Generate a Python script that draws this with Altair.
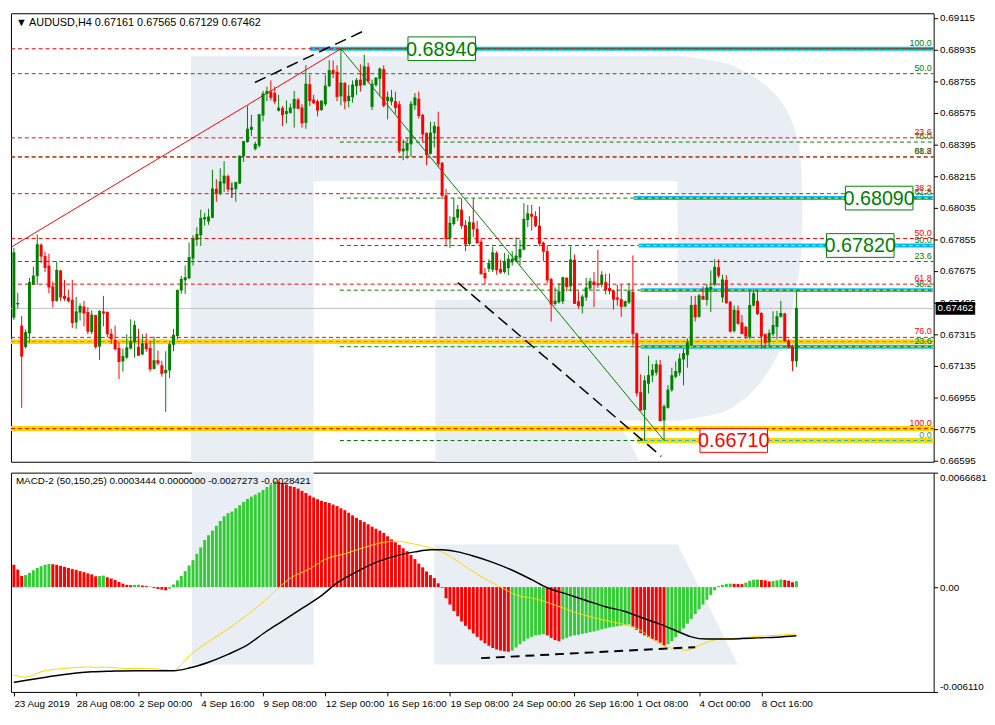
import altair as alt
import pandas as pd

# ---------------- price data (AUDUSD H4, bar index 0 = 23 Aug 2019 16:00) ----------------
opens = [0.67409,0.67485,0.67364,0.67242,0.67320,0.67597,0.67646,0.67824,0.67760,0.67706,
0.67587,0.67505,0.67678,0.67533,0.67524,0.67511,0.67382,0.67438,0.67473,0.67442,
0.67327,0.67424,0.67245,0.67445,0.67442,0.67318,0.67282,0.67237,0.67160,0.67182,
0.67233,0.67269,0.67242,0.67200,0.67264,0.67237,0.67118,0.67167,0.67138,0.67093,
0.67109,0.67255,0.67305,0.67564,0.67622,0.67633,0.67746,0.67851,0.67878,0.67969,
0.67957,0.67978,0.68142,0.68118,0.68173,0.68215,0.68142,0.68142,0.68173,0.68328,
0.68409,0.68478,0.68369,0.68388,0.68560,0.68682,0.68696,0.68688,0.68587,0.68602,
0.68569,0.68575,0.68600,0.68651,0.68606,0.68518,0.68738,0.68651,0.68642,0.68591,
0.68624,0.68727,0.68819,0.68809,0.68669,0.68745,0.68642,0.68664,0.68727,0.68764,
0.68733,0.68837,0.68609,0.68733,0.68769,0.68824,0.68642,0.68639,0.68642,0.68624,
0.68356,0.68360,0.68396,0.68618,0.68655,0.68564,0.68460,0.68342,0.68460,0.68497,
0.68291,0.68106,0.67860,0.67942,0.67978,0.68024,0.67936,0.67829,0.67951,0.67915,
0.67842,0.67664,0.67687,0.67682,0.67778,0.67687,0.67669,0.67691,0.67724,0.67733,
0.67751,0.67796,0.67965,0.68000,0.67987,0.67933,0.67837,0.67788,0.67629,0.67487,
0.67496,0.67502,0.67636,0.67587,0.67738,0.67502,0.67473,0.67524,0.67575,0.67615,
0.67605,0.67597,0.67611,0.67578,0.67564,0.67524,0.67515,0.67473,0.67496,0.67556,
0.67320,0.66985,0.66884,0.67033,0.67080,0.67096,0.67142,0.66824,0.66896,0.66997,
0.67073,0.67096,0.67171,0.67196,0.67251,0.67483,0.67414,0.67533,0.67510,0.67569,
0.67597,0.67696,0.67524,0.67624,0.67500,0.67333,0.67451,0.67382,0.67357,0.67297,
0.67478,0.67505,0.67436,0.67315,0.67269,0.67315,0.67357,0.67414,0.67433,0.67278,
0.67242,0.67161]
highs = [0.67806,0.67551,0.67420,0.67342,0.67636,0.67700,0.67882,0.67833,0.67784,0.67773,
0.67615,0.67728,0.67680,0.67624,0.67569,0.67624,0.67527,0.67491,0.67505,0.67469,
0.67451,0.67426,0.67451,0.67533,0.67444,0.67346,0.67364,0.67269,0.67233,0.67315,
0.67400,0.67391,0.67346,0.67315,0.67320,0.67278,0.67302,0.67223,0.67164,0.67218,
0.67273,0.67346,0.67569,0.67646,0.67706,0.67837,0.67878,0.67924,0.68024,0.68006,
0.68029,0.68251,0.68197,0.68260,0.68300,0.68224,0.68178,0.68182,0.68333,0.68415,
0.68614,0.68564,0.68411,0.68568,0.68700,0.68724,0.68760,0.68724,0.68678,0.68614,
0.68646,0.68628,0.68700,0.68660,0.68624,0.68847,0.68791,0.68678,0.68651,0.68646,
0.68791,0.68875,0.68873,0.68846,0.68940,0.68751,0.68733,0.68760,0.68773,0.68851,
0.68906,0.68860,0.68764,0.68777,0.68833,0.68846,0.68696,0.68706,0.68696,0.68642,
0.68424,0.68433,0.68642,0.68688,0.68696,0.68569,0.68464,0.68524,0.68524,0.68582,
0.68295,0.68142,0.67987,0.68088,0.68051,0.68088,0.67964,0.67987,0.68088,0.67960,
0.67860,0.67691,0.67742,0.67815,0.67788,0.67738,0.67778,0.67769,0.67788,0.67866,
0.67851,0.68060,0.68051,0.68051,0.68015,0.68042,0.67842,0.67818,0.67636,0.67582,
0.67605,0.67642,0.67640,0.67815,0.67769,0.67560,0.67542,0.67636,0.67636,0.67669,
0.67796,0.67673,0.67660,0.67660,0.67568,0.67597,0.67597,0.67505,0.67605,0.67763,
0.67324,0.67087,0.67080,0.67193,0.67145,0.67167,0.67169,0.66915,0.67025,0.67124,
0.67160,0.67205,0.67233,0.67291,0.67533,0.67533,0.67544,0.67587,0.67600,0.67678,
0.67742,0.67742,0.67654,0.67651,0.67504,0.67478,0.67478,0.67424,0.67361,0.67560,
0.67569,0.67560,0.67440,0.67319,0.67342,0.67445,0.67447,0.67505,0.67437,0.67287,
0.67255,0.67565]
lows = [0.67396,0.67462,0.66896,0.67233,0.67266,0.67597,0.67597,0.67720,0.67669,0.67548,
0.67466,0.67500,0.67505,0.67505,0.67496,0.67351,0.67346,0.67393,0.67360,0.67315,
0.67315,0.67233,0.67169,0.67360,0.67297,0.67260,0.67223,0.67060,0.67102,0.67174,
0.67229,0.67182,0.67193,0.67196,0.67215,0.67102,0.67114,0.67138,0.67073,0.66873,
0.67065,0.67218,0.67287,0.67545,0.67545,0.67629,0.67706,0.67818,0.67818,0.67933,
0.67938,0.67975,0.68069,0.68106,0.68124,0.68124,0.68091,0.68069,0.68170,0.68296,
0.68405,0.68442,0.68362,0.68378,0.68527,0.68642,0.68646,0.68624,0.68583,0.68500,
0.68515,0.68571,0.68491,0.68596,0.68491,0.68484,0.68614,0.68624,0.68555,0.68587,
0.68614,0.68723,0.68773,0.68642,0.68618,0.68596,0.68606,0.68633,0.68678,0.68696,
0.68730,0.68745,0.68591,0.68724,0.68669,0.68606,0.68538,0.68618,0.68569,0.68346,
0.68306,0.68314,0.68324,0.68593,0.68542,0.68406,0.68278,0.68338,0.68378,0.68269,
0.68084,0.67815,0.67806,0.67933,0.67960,0.67915,0.67788,0.67818,0.67869,0.67829,
0.67654,0.67600,0.67669,0.67669,0.67654,0.67660,0.67660,0.67651,0.67706,0.67724,
0.67709,0.67792,0.67924,0.67905,0.67924,0.67815,0.67733,0.67605,0.67387,0.67478,
0.67489,0.67487,0.67560,0.67560,0.67487,0.67460,0.67433,0.67505,0.67569,0.67469,
0.67578,0.67582,0.67542,0.67542,0.67455,0.67478,0.67414,0.67469,0.67487,0.67251,
0.66960,0.66878,0.66710,0.66978,0.67042,0.67080,0.66820,0.66709,0.66892,0.66987,
0.67064,0.67080,0.67024,0.67124,0.67247,0.67387,0.67410,0.67511,0.67478,0.67442,
0.67587,0.67636,0.67496,0.67487,0.67324,0.67324,0.67369,0.67315,0.67287,0.67287,
0.67473,0.67424,0.67233,0.67233,0.67242,0.67305,0.67287,0.67410,0.67271,0.67233,
0.67106,0.67129]
closes = [0.67778,0.67490,0.67191,0.67324,0.67609,0.67646,0.67824,0.67760,0.67696,0.67584,
0.67505,0.67678,0.67527,0.67518,0.67505,0.67382,0.67442,0.67473,0.67436,0.67333,
0.67424,0.67245,0.67445,0.67436,0.67318,0.67291,0.67233,0.67160,0.67187,0.67237,
0.67273,0.67364,0.67196,0.67260,0.67233,0.67118,0.67164,0.67151,0.67093,0.67109,
0.67255,0.67309,0.67564,0.67627,0.67636,0.67751,0.67855,0.67882,0.67973,0.67978,
0.67982,0.68142,0.68118,0.68182,0.68215,0.68142,0.68142,0.68178,0.68328,0.68411,
0.68482,0.68493,0.68396,0.68564,0.68682,0.68696,0.68664,0.68642,0.68602,0.68564,
0.68582,0.68602,0.68651,0.68602,0.68518,0.68738,0.68646,0.68633,0.68591,0.68642,
0.68727,0.68815,0.68800,0.68669,0.68745,0.68642,0.68669,0.68733,0.68760,0.68733,
0.68837,0.68760,0.68738,0.68773,0.68824,0.68618,0.68664,0.68660,0.68606,0.68360,
0.68369,0.68400,0.68624,0.68660,0.68560,0.68455,0.68338,0.68460,0.68497,0.68287,
0.68106,0.67860,0.67946,0.67978,0.68024,0.67933,0.67829,0.67951,0.67915,0.67837,
0.67660,0.67636,0.67718,0.67778,0.67682,0.67669,0.67724,0.67742,0.67742,0.67760,
0.67796,0.67969,0.68000,0.67987,0.67933,0.67833,0.67788,0.67624,0.67487,0.67502,
0.67556,0.67636,0.67587,0.67738,0.67491,0.67478,0.67527,0.67578,0.67615,0.67600,
0.67597,0.67651,0.67569,0.67564,0.67515,0.67515,0.67474,0.67500,0.67560,0.67320,
0.66982,0.66884,0.67049,0.67080,0.67109,0.67142,0.66824,0.66902,0.66997,0.67078,
0.67102,0.67174,0.67205,0.67269,0.67478,0.67414,0.67533,0.67515,0.67578,0.67582,
0.67696,0.67651,0.67624,0.67496,0.67333,0.67451,0.67378,0.67320,0.67305,0.67478,
0.67545,0.67433,0.67305,0.67269,0.67320,0.67364,0.67414,0.67433,0.67278,0.67242,
0.67164,0.67462]

date_ticks = [0, 16, 32, 48, 64, 80, 96, 112, 128, 144, 160, 176, 192]
date_labels = ["23 Aug 2019", "28 Aug 08:00", "2 Sep 00:00", "4 Sep 16:00", "9 Sep 08:00",
               "12 Sep 00:00", "16 Sep 16:00", "19 Sep 08:00", "24 Sep 00:00", "26 Sep 16:00",
               "1 Oct 08:00", "4 Oct 00:00", "8 Oct 16:00"]
price_ticks = [0.69115, 0.68935, 0.68755, 0.68575, 0.68395, 0.68215, 0.68035, 0.67855,
               0.67675, 0.67495, 0.67315, 0.67135, 0.66955, 0.66775, 0.66595]

# ---------------- MACD-2 (50,150,25) ----------------
hist = [0.00130,0.00102,0.00065,0.00070,0.00083,0.00098,0.00111,0.00122,0.00130,0.00135,
0.00133,0.00130,0.00124,0.00118,0.00111,0.00105,0.00100,0.00093,0.00087,0.00080,
0.00074,0.00063,0.00065,0.00067,0.00057,0.00050,0.00041,0.00030,0.00020,0.00013,
0.00011,0.00013,0.00014,0.00009,0.00006,0.00002,-0.00006,-0.00011,-0.00015,-0.00019,
-0.00009,0.00015,0.00039,0.00065,0.00093,0.00126,0.00157,0.00194,0.00231,0.00274,
0.00302,0.00329,0.00357,0.00385,0.00413,0.00431,0.00440,0.00459,0.00477,0.00496,
0.00514,0.00527,0.00538,0.00551,0.00566,0.00583,0.00598,0.00616,0.00612,0.00607,
0.00598,0.00588,0.00583,0.00574,0.00561,0.00548,0.00533,0.00522,0.00512,0.00503,
0.00496,0.00490,0.00481,0.00472,0.00459,0.00448,0.00433,0.00418,0.00403,0.00390,
0.00379,0.00366,0.00352,0.00340,0.00329,0.00315,0.00296,0.00278,0.00261,0.00246,
0.00226,0.00209,0.00187,0.00163,0.00137,0.00115,0.00091,0.00070,0.00052,0.00022,
-0.00004,-0.00065,-0.00102,-0.00139,-0.00170,-0.00200,-0.00226,-0.00246,-0.00270,-0.00290,
-0.00311,-0.00327,-0.00342,-0.00355,-0.00364,-0.00370,-0.00374,-0.00377,-0.00370,-0.00352,
-0.00333,-0.00315,-0.00300,-0.00290,-0.00281,-0.00278,-0.00274,-0.00281,-0.00296,-0.00309,
-0.00315,-0.00305,-0.00296,-0.00287,-0.00281,-0.00278,-0.00272,-0.00268,-0.00263,-0.00259,
-0.00253,-0.00246,-0.00241,-0.00235,-0.00231,-0.00228,-0.00224,-0.00222,-0.00218,-0.00231,
-0.00250,-0.00268,-0.00281,-0.00292,-0.00302,-0.00311,-0.00324,-0.00342,-0.00333,-0.00315,
-0.00292,-0.00268,-0.00241,-0.00213,-0.00185,-0.00157,-0.00130,-0.00102,-0.00074,-0.00046,
-0.00019,0.00006,0.00013,0.00019,0.00020,0.00019,0.00018,0.00017,0.00026,0.00037,
0.00043,0.00044,0.00041,0.00039,0.00033,0.00035,0.00039,0.00044,0.00041,0.00037,
0.00028,0.0003444]
yellow_bar = [0,3,7,14,19,24,29,36,41,45,50,55,60,65,68,71,76,80,85,90,95,98,103,107,110,
              115,120,125,129,134,139,144,149,154,158,161,164,167,170,173,175,178,182,186,
              191,196,201]
yellow_val = [-0.00512,-0.00525,-0.00493,-0.00472,-0.00466,-0.00468,-0.00474,-0.00476,-0.00485,
              -0.00401,-0.00318,-0.00244,-0.00161,-0.00068,-0.00004,0.00052,0.00107,0.00163,
              0.00194,0.00231,0.00261,0.00268,0.00250,0.00228,0.00205,0.00135,0.00061,0.0,
              -0.00046,-0.00068,-0.00105,-0.00146,-0.00179,-0.00204,-0.00226,-0.00253,-0.00305,
              -0.00342,-0.00361,-0.00368,-0.00350,-0.00322,-0.00300,-0.00298,-0.00287,-0.00281,
              -0.0027273]
black_bar = [0,4,9,15,20,25,31,41,45,50,55,60,64,69,74,79,83,88,93,98,103,107,110,114,118,
             123,128,133,137,142,147,152,157,161,166,171,174,178,182,187,191,196,201]
black_val = [-0.00555,-0.00540,-0.00522,-0.00503,-0.00494,-0.00490,-0.00487,-0.00487,-0.00472,
             -0.00438,-0.00392,-0.00337,-0.00272,-0.00198,-0.00124,-0.00050,0.00024,0.00089,
             0.00144,0.00181,0.00205,0.00218,0.00218,0.00205,0.00181,0.00144,0.00098,0.00043,
             -0.00004,-0.00041,-0.00078,-0.00115,-0.00142,-0.00176,-0.00216,-0.00263,-0.00290,
             -0.00303,-0.00303,-0.00300,-0.00296,-0.00292,-0.0028421]

# ---------------- annotation objects (bar index / price) ----------------
RED, GRN, BLUE, GOLD, MAG = "#ff0000", "#008000", "#00bfff", "#ffd700", "#c060c0"
X_L, X_R = -0.75, 236.25
lvl_dash = [  # price, from bar, to bar, colour
    (0.6894, X_L, X_R, RED), (0.68798, X_L, X_R, GRN), (0.68433, X_L, X_R, RED),
    (0.68409, 83.75, X_R, GRN), (0.68324, X_L, X_R, GRN), (0.68324, X_L, X_R, RED),
    (0.68115, X_L, X_R, RED), (0.6786, X_L, X_R, RED), (0.67729, X_L, X_R, GRN),
    (0.676, X_L, X_R, RED), (0.67297, X_L, X_R, RED), (0.6809, 83.75, X_R, GRN),
    (0.6782, 83.75, X_R, GRN), (0.67566, 83.75, X_R, GRN), (0.67244, 83.75, X_R, GRN),
    (0.6671, 83.75, 161.75, GRN)]
lvl_band = [  # price, from, to, colour, width
    (0.6894, 76, X_R, BLUE, 4), (0.6809, 159.25, X_R, BLUE, 4), (0.6782, 160.5, X_R, BLUE, 4),
    (0.67566, 161, X_R, BLUE, 4), (0.67244, 161, X_R, BLUE, 4),
    (0.67273, X_L, X_R, GOLD, 5), (0.66778, X_L, X_R, GOLD, 5), (0.6671, 160, X_R, GOLD, 5)]
lvl_overdash = [
    (0.6894, 83.75, X_R, GRN), (0.6809, 159.25, X_R, GOLD), (0.6782, 160.5, X_R, GOLD),
    (0.67566, 161, X_R, GOLD), (0.67244, 161, X_R, GOLD), (0.67273, X_L, X_R, MAG),
    (0.66778, X_L, X_R, RED), (0.6671, 161.75, X_R, BLUE)]
lvl_text = [
    (0.6894, "100.0", GRN), (0.68798, "50.0", GRN), (0.68433, "23.6", RED), (0.68409, "76.0", GRN),
    (0.68324, "61.8", RED), (0.68324, "88.2", GRN), (0.68115, "38.2", RED), (0.6809, "61.8", GRN),
    (0.6786, "50.0", RED), (0.6782, "50.0", GRN), (0.67729, "23.6", GRN), (0.676, "61.8", RED),
    (0.67566, "38.2", GRN), (0.67297, "76.0", RED), (0.67244, "23.6", GRN),
    (0.66778, "100.0", RED), (0.6671, "0.0", "#2a9a8a")]
boxes = [(109.9, 0.6894, "0.68940", GRN), (222.25, 0.6809, "0.68090", GRN),
         (217.4, 0.6782, "0.67820", GRN), (184.9, 0.6671, "0.66710", RED)]
trend_solid = [  # id, bar, price, colour
    ("up", -0.75, 0.6781, RED), ("up", 84, 0.6894, RED),
    ("down", 84, 0.6894, GRN), ("down", 167, 0.6671, GRN)]
trend_dash = [("a", 61.9, 0.68748), ("a", 89.9, 0.69042),
              ("b", 114, 0.67609), ("b", 166.3, 0.66620)]
macd_dash = [(120, -0.00414), (175, -0.00350)]
last_price = 0.67462

# watermark "R" (light background logo) in bar / price units
WM = "#e9edf4"
wm_rects = [(45.5, 77, 0.66589, 0.68897), (77, 171.75, 0.68187, 0.68897),
            (108.25, 171.75, 0.66824, 0.67511), (170.5, 171.75, 0.67511, 0.68187)]
wm_bowl_p = [0.68897, 0.68869, 0.68815, 0.68733, 0.68624, 0.68487, 0.68324, 0.68051,
             0.67778, 0.67560, 0.67342, 0.67178, 0.67042, 0.66933, 0.66862, 0.66824]
wm_bowl_r = [171.75, 180.5, 187.25, 193, 197.5, 200.5, 202, 202.5,
             202.25, 200.75, 198.5, 195.75, 191.75, 186.75, 180.5, 171.75]
wm_leg_p = [0.66824, 0.66589]
wm_leg_r = [155.25, 160.75]
wm_macd_stem = (45.75, 77, -0.00451, 0.0067)
wm_macd_leg_v = [0.00248, -0.00451]
wm_macd_leg_r = [170.5, 186]

# ---------------- frames ----------------
n = len(opens)
cdf = pd.DataFrame({"i": range(n), "o": opens, "h": highs, "l": lows, "c": closes})
cdf["col"] = [GRN if c > o else (RED if c < o else "#000000") for o, c in zip(opens, closes)]
cdf["x0"] = cdf["i"] - 0.38
cdf["x1"] = cdf["i"] + 0.38

hdf = pd.DataFrame({"i": range(n), "v": hist})
hdf["col"] = ["#ff0000"] + ["#32cd32" if hist[k] > hist[k - 1] else "#ff0000" for k in range(1, n)]
hdf["x0"] = hdf["i"] - 0.38
hdf["x1"] = hdf["i"] + 0.38
hdf["z"] = 0.0

xs = alt.Scale(domain=[X_L, X_R], nice=False, zero=False)
ys = alt.Scale(domain=[0.66589, 0.69142], nice=False, zero=False)
ms = alt.Scale(domain=[-0.00611, 0.0066681], nice=False, zero=False)
FONT = "Liberation Sans"
NARROW = "Liberation Sans Narrow, Liberation Sans"

price_axis = alt.Axis(orient="right", values=price_ticks, format=".5f", title=None, grid=False,
                      domain=False, tickSize=4, tickColor="black", labelPadding=2,
                      labelFont=FONT, labelFontSize=10, labelColor="black", labelOverlap=False)
PX = lambda f: alt.X(f, type="quantitative", scale=xs, axis=None)
PX2 = lambda f: alt.X2(f)
PY = lambda f: alt.Y(f, type="quantitative", scale=ys, axis=price_axis)

W, HP, HM = 934, 454, 222

# watermark price panel
wr = pd.DataFrame(wm_rects, columns=["a", "b", "p0", "p1"])
wm1 = alt.Chart(wr).mark_rect(color=WM).encode(x=PX("a"), x2="b", y=PY("p0"), y2="p1")
wb = pd.DataFrame({"p": wm_bowl_p, "r": wm_bowl_r, "l": [170.5] * len(wm_bowl_p)})
wm2 = alt.Chart(wb).mark_area(color=WM, orient="horizontal", interpolate="monotone").encode(
    y=PY("p"), x=PX("l"), x2="r")
wlg = pd.DataFrame({"p": wm_leg_p, "r": wm_leg_r, "l": [108.25, 108.25]})
wm3 = alt.Chart(wlg).mark_area(color=WM, orient="horizontal").encode(y=PY("p"), x=PX("l"), x2="r")

ddf = pd.DataFrame(lvl_dash, columns=["p", "a", "b", "col"])
dash_l = alt.Chart(ddf).mark_rule(strokeDash=[4, 3], strokeWidth=1).encode(
    x=PX("a"), x2="b", y=PY("p"), color=alt.Color("col:N", scale=None))
bdf = pd.DataFrame(lvl_band, columns=["p", "a", "b", "col", "w"])
band_l = alt.Chart(bdf).mark_rule().encode(
    x=PX("a"), x2="b", y=PY("p"), color=alt.Color("col:N", scale=None),
    strokeWidth=alt.StrokeWidth("w:Q", scale=None))
odf = pd.DataFrame(lvl_overdash, columns=["p", "a", "b", "col"])
over_l = alt.Chart(odf).mark_rule(strokeDash=[4, 3], strokeWidth=1).encode(
    x=PX("a"), x2="b", y=PY("p"), color=alt.Color("col:N", scale=None))
cur_l = alt.Chart(pd.DataFrame({"p": [last_price], "a": [X_L], "b": [X_R]})).mark_rule(
    color="#c0c0c0", strokeWidth=1).encode(x=PX("a"), x2="b", y=PY("p"))

tdf = pd.DataFrame(trend_solid, columns=["id", "i", "p", "col"])
trend1 = alt.Chart(tdf).mark_line(strokeWidth=1).encode(
    x=PX("i"), y=PY("p"), detail="id:N", color=alt.Color("col:N", scale=None))
tddf = pd.DataFrame(trend_dash, columns=["id", "i", "p"])
trend2 = alt.Chart(tddf).mark_line(strokeWidth=1.5, color="black", strokeDash=[12, 6]).encode(
    x=PX("i"), y=PY("p"), detail="id:N")

wick = alt.Chart(cdf).mark_rule(strokeWidth=1).encode(
    x=PX("i"), y=PY("l"), y2="h", color=alt.Color("col:N", scale=None))
body = alt.Chart(cdf).mark_rect().encode(
    x=PX("x0"), x2="x1", y=PY("o"), y2="c", color=alt.Color("col:N", scale=None))
bodyline = alt.Chart(cdf).mark_rule(strokeWidth=1).encode(
    x=PX("x0"), x2="x1", y=PY("c"), color=alt.Color("col:N", scale=None))

txdf = pd.DataFrame(lvl_text, columns=["p", "t", "col"])
txdf["x"] = X_R
lvl_txt = alt.Chart(txdf).mark_text(align="right", baseline="bottom", dx=-2, dy=-1,
                                    font=FONT, fontSize=9).encode(
    x=PX("x"), y=PY("p"), text="t:N", color=alt.Color("col:N", scale=None))

bxdf = pd.DataFrame(boxes, columns=["i", "p", "t", "col"])
box_bg = alt.Chart(bxdf).mark_point(shape="M-2.85,-1L2.85,-1L2.85,1L-2.85,1Z", filled=False,
                                    fill="white", fillOpacity=1, size=576, strokeWidth=1,
                                    opacity=1).encode(
    x=PX("i"), y=PY("p"), stroke=alt.Stroke("col:N", scale=None))
box_tx = alt.Chart(bxdf).mark_text(font=FONT, fontSize=20, baseline="middle", dy=1).encode(
    x=PX("i"), y=PY("p"), text="t:N", color=alt.Color("col:N", scale=None))

lp = pd.DataFrame({"p": [last_price], "t": [f"{last_price:.5f}"]})
lp_box = alt.Chart(lp).mark_point(shape="M-3.08,-1L3.08,-1L3.08,1L-3.08,1Z", filled=True,
                                  color="black", size=169, opacity=1).encode(
    x=alt.value(W + 22), y=PY("p"))
lp_txt = alt.Chart(lp).mark_text(color="white", font=FONT, fontSize=10, align="left",
                                 baseline="middle").encode(x=alt.value(W + 4), y=PY("p"), text="t:N")

hdr = alt.Chart(pd.DataFrame({"t": ["\u25BC AUDUSD,H4  0.67161 0.67565 0.67129 0.67462"]})).mark_text(
    align="left", baseline="middle", font=NARROW, fontSize=11, color="black").encode(
    x=alt.value(5), y=alt.value(10), text="t:N")

price_panel = alt.layer(wm1, wm2, wm3, band_l, dash_l, over_l, cur_l, trend1, trend2,
                        wick, body, bodyline, box_bg, box_tx, lvl_txt, lp_box, lp_txt, hdr
                        ).properties(width=W, height=HP)

# ---------------- MACD panel ----------------
expr = "[" + ",".join("'" + s + "'" for s in date_labels) + "][round(datum.value/16)]"
x_axis = alt.Axis(orient="bottom", values=date_ticks, labelExpr=expr, title=None, grid=False,
                  domain=False, tickSize=4, tickColor="black", labelAlign="left",
                  labelPadding=3, labelFont=FONT, labelFontSize=10, labelColor="black",
                  labelOverlap=False, labelFlush=False)
macd_axis = alt.Axis(orient="right", values=[0.0066681, 0, -0.00611], title=None, grid=False,
                     domain=False, tickSize=4, tickColor="black", labelPadding=2,
                     labelFont=FONT, labelFontSize=10, labelColor="black", labelFlush=True,
                     labelExpr="datum.value > 0.001 ? '0.0066681' : (datum.value < -0.001 ? '-0.006110' : '0.00')")
MX = lambda f: alt.X(f, type="quantitative", scale=xs, axis=x_axis)
MY = lambda f: alt.Y(f, type="quantitative", scale=ms, axis=macd_axis)

ms1 = alt.Chart(pd.DataFrame([wm_macd_stem], columns=["a", "b", "v0", "v1"])).mark_rect(color=WM).encode(
    x=MX("a"), x2="b", y=MY("v0"), y2="v1")
ml = pd.DataFrame({"v": wm_macd_leg_v, "r": wm_macd_leg_r, "l": [108, 108]})
ms2 = alt.Chart(ml).mark_area(color=WM, orient="horizontal").encode(y=MY("v"), x=MX("l"), x2="r")
hbar = alt.Chart(hdf).mark_rect().encode(
    x=MX("x0"), x2="x1", y=MY("v"), y2="z", color=alt.Color("col:N", scale=None))
yl = alt.Chart(pd.DataFrame({"i": yellow_bar, "v": yellow_val})).mark_line(
    color="#ffd700", strokeWidth=1, interpolate="monotone").encode(x=MX("i"), y=MY("v"))
bl = alt.Chart(pd.DataFrame({"i": black_bar, "v": black_val})).mark_line(
    color="black", strokeWidth=1.5, interpolate="monotone").encode(x=MX("i"), y=MY("v"))
md = alt.Chart(pd.DataFrame(macd_dash, columns=["i", "v"])).mark_line(
    color="black", strokeWidth=2, strokeDash=[9, 6]).encode(x=MX("i"), y=MY("v"))
mhdr = alt.Chart(pd.DataFrame({"t": ["MACD-2 (50,150,25) 0.0003444 0.0000000 -0.0027273 -0.0028421"]})).mark_text(
    align="left", baseline="middle", font=NARROW, fontSize=10, color="black").encode(
    x=alt.value(5), y=alt.value(9), text="t:N")

macd_panel = alt.layer(ms1, ms2, hbar, yl, bl, md, mhdr).properties(width=W, height=HM)

chart = alt.vconcat(price_panel, macd_panel, spacing=4).properties(
    padding={"left": 0, "top": 0, "right": 0, "bottom": 0}, background="white"
).configure_view(stroke="black", strokeWidth=1)

chart.save("out.html", embed_options={"renderer": "svg", "actions": False})
